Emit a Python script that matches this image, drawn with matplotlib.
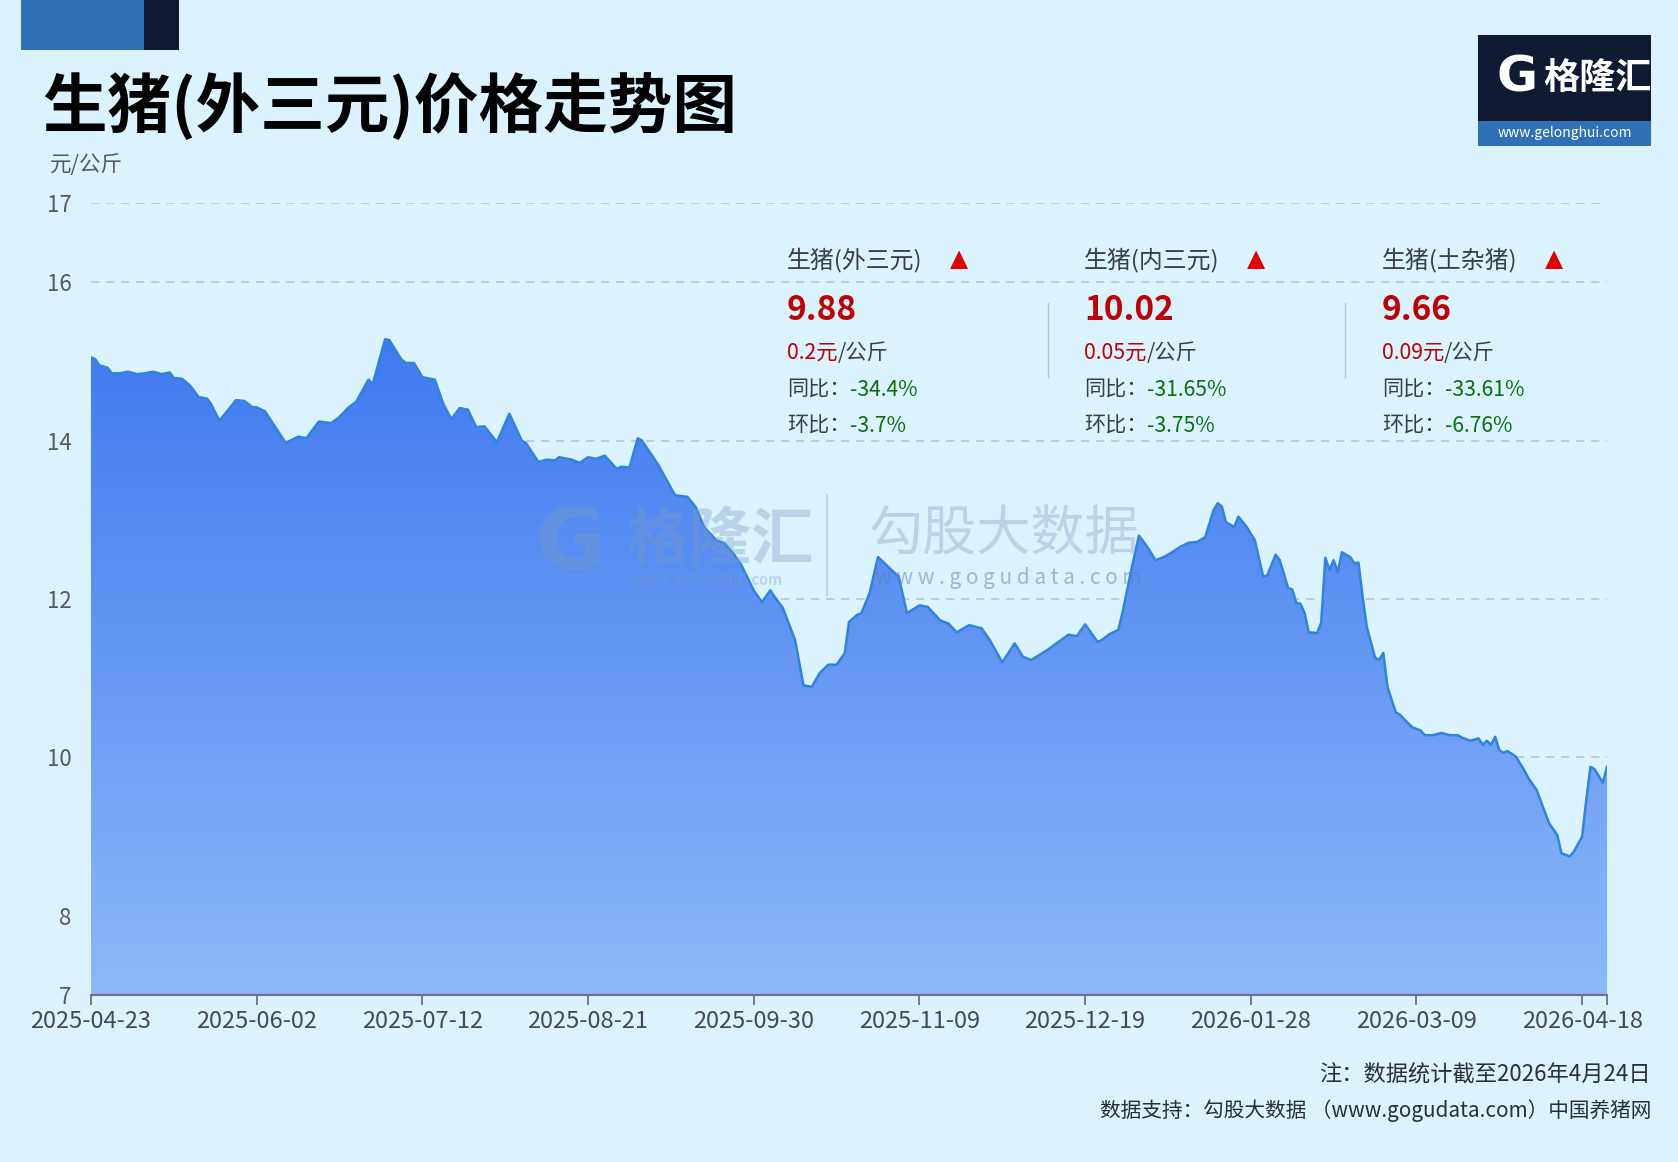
import matplotlib
matplotlib.use("Agg")
import matplotlib.pyplot as plt
import matplotlib.dates as mdates
from matplotlib.colors import LinearSegmentedColormap
from matplotlib.patches import PathPatch, Rectangle
from matplotlib.path import Path
import numpy as np
import pandas as pd

plt.rcParams['font.family'] = ['Noto Sans CJK SC', 'DejaVu Sans']

# ---------------- data ----------------
dates = [
    "2025-04-23", "2025-04-24", "2025-04-25", "2025-04-27", "2025-04-28", "2025-04-30",
    "2025-05-02", "2025-05-04", "2025-05-06", "2025-05-08", "2025-05-10", "2025-05-12",
    "2025-05-13", "2025-05-15", "2025-05-17", "2025-05-19", "2025-05-21", "2025-05-22",
    "2025-05-24", "2025-05-26", "2025-05-28", "2025-05-30", "2025-06-01", "2025-06-02",
    "2025-06-04", "2025-06-06", "2025-06-09", "2025-06-12", "2025-06-14", "2025-06-17",
    "2025-06-20", "2025-06-22", "2025-06-24", "2025-06-26", "2025-06-29", "2025-06-30",
    "2025-07-03", "2025-07-04", "2025-07-07", "2025-07-08", "2025-07-10", "2025-07-12",
    "2025-07-15", "2025-07-17", "2025-07-19", "2025-07-21", "2025-07-23", "2025-07-25",
    "2025-07-27", "2025-07-30", "2025-08-02", "2025-08-05", "2025-08-06", "2025-08-09",
    "2025-08-11", "2025-08-13", "2025-08-14", "2025-08-17", "2025-08-19", "2025-08-21",
    "2025-08-23", "2025-08-25", "2025-08-28", "2025-08-29", "2025-08-31", "2025-09-02",
    "2025-09-03", "2025-09-07", "2025-09-09", "2025-09-11", "2025-09-14", "2025-09-16",
    "2025-09-18", "2025-09-21", "2025-09-23", "2025-09-25", "2025-09-27", "2025-09-30",
    "2025-10-02", "2025-10-04", "2025-10-05", "2025-10-07", "2025-10-10", "2025-10-12",
    "2025-10-14", "2025-10-16", "2025-10-18", "2025-10-20", "2025-10-22", "2025-10-23",
    "2025-10-25", "2025-10-26", "2025-10-28", "2025-10-30", "2025-11-01", "2025-11-04",
    "2025-11-06", "2025-11-09", "2025-11-11", "2025-11-14", "2025-11-16", "2025-11-18",
    "2025-11-21", "2025-11-24", "2025-11-26", "2025-11-29", "2025-12-02", "2025-12-04",
    "2025-12-06", "2025-12-10", "2025-12-15", "2025-12-17", "2025-12-19", "2025-12-22",
    "2025-12-23", "2025-12-25", "2025-12-27", "2025-12-28", "2025-12-30", "2026-01-01",
    "2026-01-03", "2026-01-05", "2026-01-07", "2026-01-09", "2026-01-11", "2026-01-13",
    "2026-01-15", "2026-01-17", "2026-01-19", "2026-01-20", "2026-01-21", "2026-01-22",
    "2026-01-24", "2026-01-25", "2026-01-27", "2026-01-29", "2026-01-31", "2026-02-01",
    "2026-02-03", "2026-02-04", "2026-02-06", "2026-02-07", "2026-02-08", "2026-02-09",
    "2026-02-10", "2026-02-11", "2026-02-13", "2026-02-14", "2026-02-15", "2026-02-16",
    "2026-02-17", "2026-02-18", "2026-02-19", "2026-02-21", "2026-02-22", "2026-02-23",
    "2026-02-24", "2026-02-25", "2026-02-27", "2026-02-28", "2026-03-01", "2026-03-02",
    "2026-03-04", "2026-03-05", "2026-03-07", "2026-03-08", "2026-03-10", "2026-03-11",
    "2026-03-13", "2026-03-15", "2026-03-17", "2026-03-19", "2026-03-20", "2026-03-22",
    "2026-03-24", "2026-03-25", "2026-03-26", "2026-03-27", "2026-03-28", "2026-03-29",
    "2026-03-30", "2026-03-31", "2026-04-02", "2026-04-04", "2026-04-05", "2026-04-07",
    "2026-04-10", "2026-04-12", "2026-04-13", "2026-04-15", "2026-04-16", "2026-04-18",
    "2026-04-19", "2026-04-20", "2026-04-21", "2026-04-23", "2026-04-24",
]
prices = [
    15.05, 15.03, 14.95, 14.92, 14.85, 14.85,
    14.87, 14.84, 14.85, 14.87, 14.84, 14.86,
    14.79, 14.78, 14.69, 14.55, 14.53, 14.46,
    14.25, 14.38, 14.51, 14.50, 14.42, 14.42,
    14.37, 14.21, 13.97, 14.05, 14.03, 14.24,
    14.22, 14.30, 14.41, 14.49, 14.77, 14.71,
    15.28, 15.27, 15.02, 14.98, 14.98, 14.80,
    14.77, 14.47, 14.27, 14.41, 14.39, 14.17,
    14.18, 13.98, 14.34, 14.00, 13.97, 13.73,
    13.76, 13.75, 13.79, 13.76, 13.72, 13.79,
    13.77, 13.81, 13.64, 13.67, 13.66, 14.03,
    14.00, 13.69, 13.50, 13.31, 13.29, 13.16,
    12.91, 12.74, 12.70, 12.58, 12.43, 12.11,
    11.96, 12.11, 12.03, 11.89, 11.48, 10.91,
    10.89, 11.07, 11.17, 11.17, 11.32, 11.71,
    11.80, 11.82, 12.08, 12.53, 12.43, 12.28,
    11.82, 11.92, 11.90, 11.73, 11.69, 11.58,
    11.67, 11.63, 11.48, 11.20, 11.44, 11.27,
    11.23, 11.36, 11.55, 11.53, 11.68, 11.46,
    11.48, 11.56, 11.61, 11.82, 12.33, 12.80,
    12.66, 12.49, 12.53, 12.59, 12.66, 12.71,
    12.72, 12.78, 13.12, 13.21, 13.17, 12.97,
    12.91, 13.04, 12.91, 12.74, 12.28, 12.30,
    12.56, 12.49, 12.14, 12.12, 11.95, 11.94,
    11.82, 11.58, 11.57, 11.70, 12.52, 12.37,
    12.49, 12.34, 12.59, 12.53, 12.45, 12.46,
    12.03, 11.65, 11.26, 11.23, 11.32, 10.89,
    10.57, 10.54, 10.43, 10.38, 10.34, 10.28,
    10.28, 10.31, 10.28, 10.28, 10.25, 10.21,
    10.24, 10.16, 10.21, 10.16, 10.26, 10.09,
    10.06, 10.08, 10.01, 9.84, 9.74, 9.59,
    9.17, 9.02, 8.79, 8.75, 8.81, 9.00,
    9.46, 9.88, 9.85, 9.68, 9.88,
]
x_tick_labels = ["2025-04-23", "2025-06-02", "2025-07-12", "2025-08-21", "2025-09-30",
                 "2025-11-09", "2025-12-19", "2026-01-28", "2026-03-09", "2026-04-18"]
y_ticks = [7, 8, 10, 12, 14, 16, 17]

card_names = ["生猪(外三元)", "生猪(内三元)", "生猪(土杂猪)"]
card_prices = ["9.88", "10.02", "9.66"]
card_changes = ["0.2元", "0.05元", "0.09元"]
card_yoy = ["-34.4%", "-31.65%", "-33.61%"]
card_mom = ["-3.7%", "-3.75%", "-6.76%"]

title = "生猪(外三元)价格走势图"
unit = "元/公斤"
note1 = "注：数据统计截至2026年4月24日"
note2 = "数据支持：勾股大数据 （www.gogudata.com）中国养猪网"

# ---------------- figure ----------------
W, H = 1678, 1162
BG = "#daf3fe"
fig = plt.figure(figsize=(W / 100, H / 100), dpi=100, facecolor=BG)


def fx(px):
    return px / W


def fy(py):
    return 1 - py / H


# top-left decoration
fig.patches.append(Rectangle((fx(21), fy(50)), fx(144) - fx(21), fy(0) - fy(50),
                             transform=fig.transFigure, facecolor="#2f70b7", edgecolor="none"))
fig.patches.append(Rectangle((fx(144), fy(50)), fx(179) - fx(144), fy(0) - fy(50),
                             transform=fig.transFigure, facecolor="#111a33", edgecolor="none"))

# title
fig.text(fx(42), fy(107), title, fontsize=46.5, fontweight="bold", color="#000000",
         ha="left", va="center")
fig.text(fx(50), fy(165), unit, fontsize=15.5, color="#555a60", ha="left", va="center")

# logo (top right)
fig.patches.append(Rectangle((fx(1478), fy(146)), fx(1651) - fx(1478), fy(35) - fy(146),
                             transform=fig.transFigure, facecolor="#111a33", edgecolor="none"))
fig.patches.append(Rectangle((fx(1478), fy(146)), fx(1651) - fx(1478), fy(121) - fy(146),
                             transform=fig.transFigure, facecolor="#2f70b7", edgecolor="none"))
fig.text(fx(1517), fy(78), "G", fontsize=36, fontweight="bold", color="white",
         ha="center", va="center", family=["DejaVu Sans"])
fig.text(fx(1543), fy(78), "格隆汇", fontsize=26, fontweight="bold", color="white",
         ha="left", va="center")
fig.text(fx(1565), fy(133), "www.gelonghui.com", fontsize=10, color="white",
         ha="center", va="center")

# ---------------- axes ----------------
ax = fig.add_axes([fx(91), fy(995), fx(1607) - fx(91), fy(203) - fy(995)])
ax.set_facecolor("none")

xd = mdates.date2num(pd.to_datetime(dates))
yv = np.array(prices)
x0, x1 = xd[0], xd[-1]
ymin, ymax = 7, 17

# gradient fill
cmap = LinearSegmentedColormap.from_list("g", ["#8db8f8", "#3e79f0"])
grad = np.linspace(0, 1, 256).reshape(-1, 1)
img = ax.imshow(grad, extent=[x0, x1, ymin, 15.4], origin="lower", aspect="auto",
                cmap=cmap, zorder=2, interpolation="bicubic")
verts = np.vstack([np.column_stack([xd, yv]),
                   [[x1, ymin], [x0, ymin]]])
clip = PathPatch(Path(verts), transform=ax.transData, facecolor="none", edgecolor="none")
ax.add_patch(clip)
img.set_clip_path(clip)
ax.plot(xd, yv, color="#3282df", lw=1.8, zorder=4, solid_joinstyle="round")

ax.set_xlim(x0, x1)
ax.set_ylim(ymin, ymax)

# grid
for yt in y_ticks:
    if yt != ymin:
        ax.axhline(yt, color="#b9c6d2", lw=1.2, ls=(0, (5, 4)), zorder=1)

ax.set_yticks(y_ticks)
ax.set_yticklabels([str(t) for t in y_ticks])
ax.tick_params(axis="y", length=0, pad=14, labelsize=16, labelcolor="#555a60")

xt = mdates.date2num(pd.to_datetime(x_tick_labels))
ax.set_xticks(xt)
ax.set_xticklabels(x_tick_labels)
ax.set_xticks([x1], minor=True)
ax.tick_params(axis="x", which="both", length=7, width=1.3, color="#6e7079", pad=4,
               labelsize=17, labelcolor="#444a55")

for s in ["left", "right", "top"]:
    ax.spines[s].set_visible(False)
ax.spines["bottom"].set_color("#6e7079")
ax.spines["bottom"].set_linewidth(1.5)
ax.spines["bottom"].set_zorder(5)

# ---------------- watermark ----------------
wm = "#7d9cc0"
fig.text(fx(571), fy(545), "G", fontsize=62, fontweight="bold", color=wm, alpha=0.35,
         ha="center", va="center", family=["DejaVu Sans"], zorder=6)
fig.text(fx(627), fy(540), "格隆汇", fontsize=45, fontweight="bold", color=wm, alpha=0.35,
         ha="left", va="center", zorder=6)
fig.text(fx(708), fy(580), "www.gelonghui.com", fontsize=10.5, fontweight="bold", color=wm,
         alpha=0.35, ha="center", va="center", zorder=6)
fig.lines.append(plt.Line2D([fx(827), fx(827)], [fy(495), fy(595)], transform=fig.transFigure,
                            color=wm, alpha=0.3, lw=1.5, zorder=6))
fig.text(fx(869), fy(535), "勾股大数据", fontsize=39, color=wm, alpha=0.35,
         ha="left", va="center", zorder=6)
fig.text(fx(1008), fy(578), "w w w . g o g u d a t a . c o m", fontsize=15, color="#5b7fa8",
         alpha=0.5, ha="center", va="center", zorder=6)

# ---------------- info cards ----------------
renderer = fig.canvas.get_renderer()
RED = "#c00000"
GREEN = "#0a6e0a"
GRAY = "#3a3f45"
col_x = [787, 1084, 1382]
tri_x = [959, 1256, 1554]


def pair(x, y, t1, c1, t2, c2, size):
    a = fig.text(fx(x), fy(y), t1, fontsize=size, color=c1, ha="left", va="center", zorder=7)
    bb = a.get_window_extent(renderer=renderer)
    fig.text(bb.x1 / W, fy(y), t2, fontsize=size, color=c2, ha="left", va="center", zorder=7)


for i in range(3):
    cx = col_x[i]
    fig.text(fx(cx), fy(260), card_names[i], fontsize=17.2, color=GRAY, ha="left", va="center")
    fig.text(fx(tri_x[i]), fy(259), "▲", fontsize=17, color="#e00000", ha="center", va="center",
             family=["DejaVu Sans"])
    fig.text(fx(cx), fy(310), card_prices[i], fontsize=24, fontweight="bold", color=RED,
             ha="left", va="center")
    pair(cx, 353, card_changes[i], RED, "/公斤", GRAY, 15.3)
    pair(cx, 390, "同比：", GRAY, card_yoy[i], GREEN, 15.2)
    pair(cx, 426, "环比：", GRAY, card_mom[i], GREEN, 15.2)

for sx in [1048, 1345]:
    fig.lines.append(plt.Line2D([fx(sx), fx(sx)], [fy(303), fy(377)], transform=fig.transFigure,
                                color="#b8c4ce", lw=1.0))

# ---------------- footer ----------------
fig.text(fx(1651), fy(1075), note1, fontsize=16, color="#2a2f35", ha="right", va="center")
fig.text(fx(1651), fy(1111), note2, fontsize=14.9, color="#2a2f35", ha="right", va="center")

fig.savefig("out.png", dpi=100, facecolor=BG)
